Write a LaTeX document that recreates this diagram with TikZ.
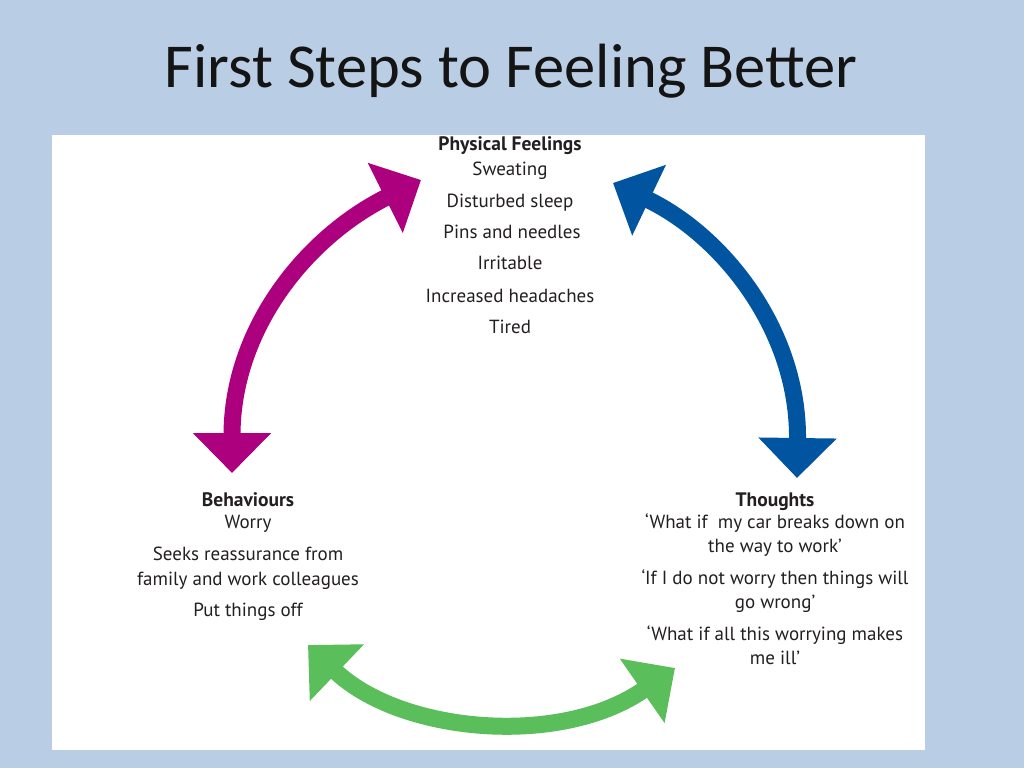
\documentclass[tikz,border=0pt]{standalone}
\usepackage{fontspec}
\setmainfont{Carlito}
\newfontfamily\bodyfont{PT Sans}
\usetikzlibrary{arrows.meta}
\definecolor{bgblue}{RGB}{185,205,228}
\definecolor{magentaA}{RGB}{172,0,127}
\definecolor{blueA}{RGB}{0,84,160}
\definecolor{greenA}{RGB}{90,190,90}
\definecolor{txt}{RGB}{35,31,32}
\tikzset{
  bodytxt/.style={font=\bodyfont\fontsize{19}{23}\selectfont, text=txt, anchor=base, inner sep=0pt},
  headtxt/.style={font=\bodyfont\bfseries\fontsize{19.5}{23}\selectfont, text=txt, anchor=base, inner sep=0pt},
  bigarrow/.style={line width=17pt, {Triangle[width=76pt,length=40pt]}-{Triangle[width=76pt,length=40pt]}}
}
\begin{document}
\begin{tikzpicture}[x=1pt,y=-1pt]
\useasboundingbox (0,0) rectangle (1024,768);
\fill[bgblue] (0,0) rectangle (1024,768);
\fill[white] (52,135) rectangle (925,750);
\node[anchor=base, inner sep=0pt, font=\fontsize{62.5}{70}\selectfont, text=black!92] (title) at (511,87) {First Steps to Feeling Better};
% Physical feelings
\node[headtxt] (pf) at (510,150) {Physical Feelings};
\node[bodytxt] (pf1) at (510,175) {Sweating};
\node[bodytxt] (pf2) at (510,207) {Disturbed sleep};
\node[bodytxt] (pf3) at (512,238) {Pins and needles};
\node[bodytxt] (pf4) at (510,269) {Irritable};
\node[bodytxt] (pf5) at (510,302) {Increased headaches};
\node[bodytxt] (pf6) at (510,333) {Tired};
% Behaviours
\node[headtxt] (bh) at (248,506) {Behaviours};
\node[bodytxt] (bh1) at (248,528) {Worry};
\node[bodytxt] (bh2) at (248,560) {Seeks reassurance from};
\node[bodytxt] (bh3) at (248,585) {family and work colleagues};
\node[bodytxt] (bh4) at (248,616) {Put things off};
% Thoughts
\node[headtxt] (th) at (775,506) {Thoughts};
\node[bodytxt] (th1) at (775,528) {‘What if~ my car breaks down on};
\node[bodytxt] (th2) at (775,552) {the way to work’};
\node[bodytxt] (th3) at (775,584) {‘If I do not worry then things will};
\node[bodytxt] (th4) at (775,608) {go wrong’};
\node[bodytxt] (th5) at (775,640) {‘What if all this worrying makes};
\node[bodytxt] (th6) at (775,664) {me ill’};
% arrow end points
\coordinate (mA) at (232,473);
\coordinate (mB) at (421,180);
\coordinate (bA) at (613,183);
\coordinate (bB) at (797,478);
\coordinate (gA) at (308,645);
\coordinate (gB) at (675,668);
\draw[bigarrow, magentaA] (mA) .. controls (232,330) and (305,238) .. (mB);
\draw[bigarrow, blueA] (bA) .. controls (722,235) and (799,330) .. (bB);
\draw[bigarrow, greenA] (gA) .. controls (400,733) and (560,748) .. (gB);
\end{tikzpicture}
\end{document}
